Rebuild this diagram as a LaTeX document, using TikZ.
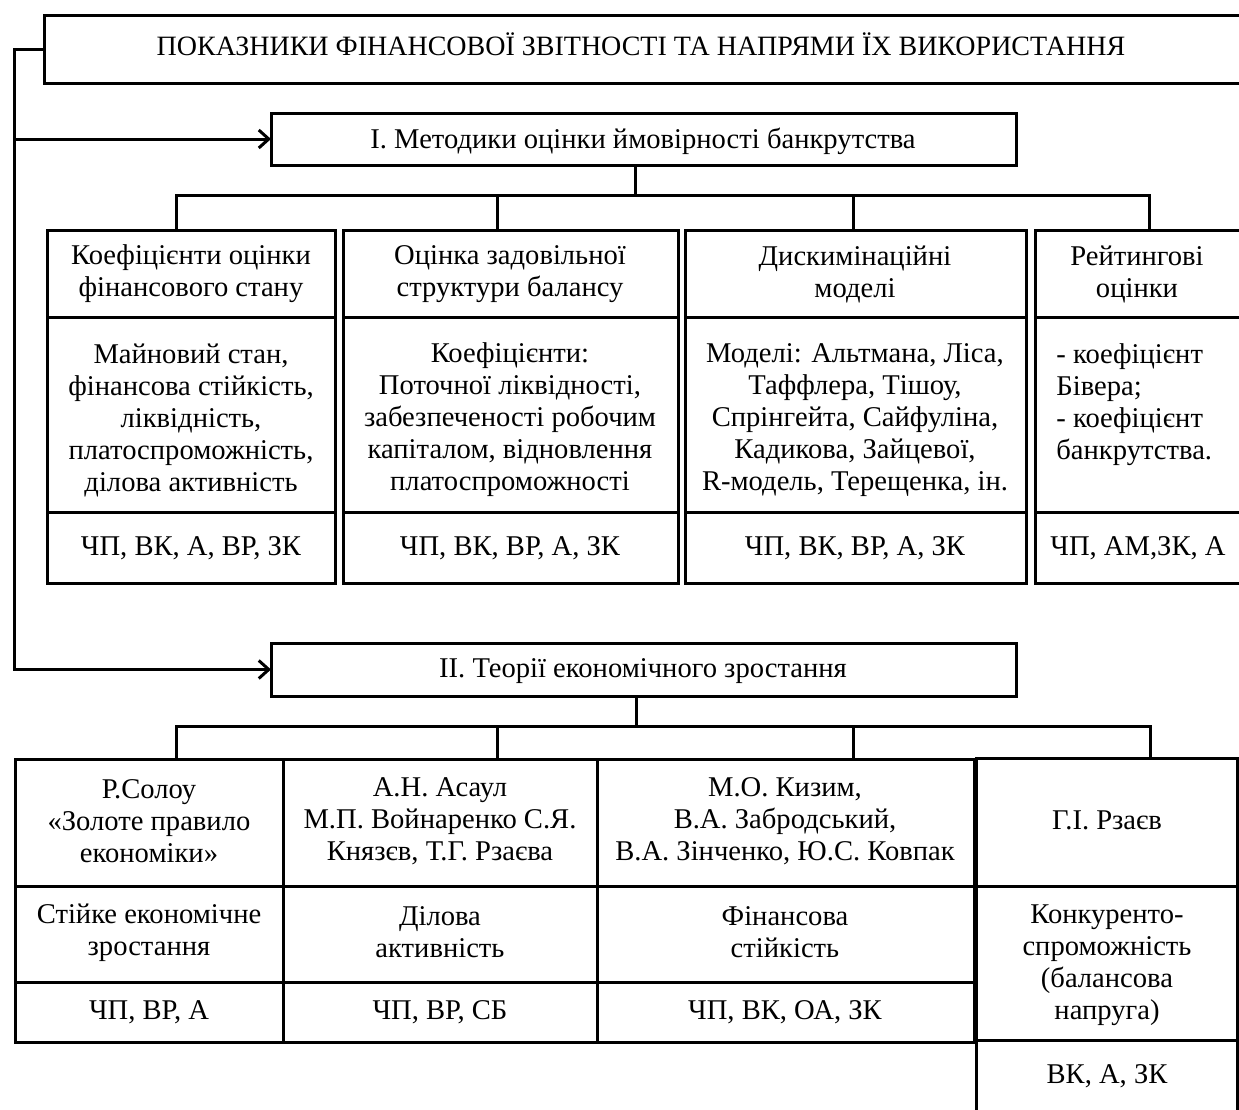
\documentclass[tikz,border=0pt]{standalone}
\usepackage{fontspec}
\setmainfont{Liberation Serif}
\usetikzlibrary{arrows.meta}

% box with corners (x1,y1) and (x2,y2), in pixel units
\newcommand\cellbox[5]{%
  \node[cellb, minimum width={(#4-#2)*0.5pt}, minimum height={(#5-#3)*0.5pt}]
    (#1) at ({(#2+#4)/2},{(#3+#5)/2}) {};}

\tikzset{
  cellb/.style={draw=black, line width=1.5pt, rectangle, inner sep=0pt, outer sep=0pt},
  txt/.style={align=center, inner sep=0pt, font=\fontsize{14.3}{16}\selectfont},
  conn/.style={draw=black, line width=1.5pt},
  arr/.style={-{Straight Barb[length=5pt,width=9pt,line width=1.5pt]}},
}

\begin{document}
\begin{tikzpicture}[x=0.5pt,y=-0.5pt]
\useasboundingbox (0,0) rectangle (1239,1110);

% title and the two section headings
\cellbox{top}{44}{15}{1242}{83}
\node[txt, font=\fontsize{14}{16}\selectfont] (title) at (641,44) {ПОКАЗНИКИ ФІНАНСОВОЇ ЗВІТНОСТІ ТА НАПРЯМИ ЇХ ВИКОРИСТАННЯ};
\cellbox{m1}{271}{113}{1016}{165}
\node[txt] (m1t) at (643,141) {І. Методики оцінки ймовірності банкрутства};
\cellbox{m2}{271}{643}{1016}{696}
\node[txt] (m2t) at (643,671) {ІІ. Теорії економічного зростання};

% section I: four columns of three cells
\cellbox{h11}{47}{230}{335}{317}
\cellbox{b11}{47}{317}{335}{512}
\cellbox{f11}{47}{512}{335}{583}
\cellbox{h12}{343}{230}{678}{317}
\cellbox{b12}{343}{317}{678}{512}
\cellbox{f12}{343}{512}{678}{583}
\cellbox{h13}{685}{230}{1026}{317}
\cellbox{b13}{685}{317}{1026}{512}
\cellbox{f13}{685}{512}{1026}{583}
\cellbox{h14}{1035}{230}{1242}{317}
\cellbox{b14}{1035}{317}{1242}{512}
\cellbox{f14}{1035}{512}{1242}{583}

\node[txt] (h11t) at (191,274) {Коефіцієнти оцінки\\фінансового стану};
\node[txt] (h12t) at (510,274) {Оцінка задовільної\\структури балансу};
\node[txt] (h13t) at (855,274) {Дискимінаційні\\моделі};
\node[txt] (h14t) at (1137,274) {Рейтингові\\оцінки};

\node[txt] (b11t) at (191,420) {Майновий стан,\\фінансова стійкість,\\ліквідність,\\платоспроможність,\\ділова активність};
\node[txt] (b12t) at (510,420) {Коефіцієнти:\\Поточної ліквідності,\\забезпеченості робочим\\капіталом, відновлення\\платоспроможності};
\node[txt] (b13t) at (855,420) {Моделі: Альтмана, Ліса,\\Таффлера, Тішоу,\\Спрінгейта, Сайфуліна,\\Кадикова, Зайцевої,\\R-модель, Терещенка, ін.};
\node[txt, align=left, anchor=west] (b14t) at (1056,405) {- коефіцієнт\\Бівера;\\- коефіцієнт\\банкрутства.};

\node[txt] (f11t) at (191,548) {ЧП, ВК, А, ВР, ЗК};
\node[txt] (f12t) at (510,548) {ЧП, ВК, ВР, А, ЗК};
\node[txt] (f13t) at (855,548) {ЧП, ВК, ВР, А, ЗК};
\node[txt] (f14t) at (1138,548) {ЧП, АМ,ЗК, А};

% section II: table of three columns and a taller fourth box
\cellbox{h21}{15}{759}{283}{886}
\cellbox{b21}{15}{886}{283}{982}
\cellbox{f21}{15}{982}{283}{1042}
\cellbox{h22}{283}{759}{597}{886}
\cellbox{b22}{283}{886}{597}{982}
\cellbox{f22}{283}{982}{597}{1042}
\cellbox{h23}{597}{759}{974}{886}
\cellbox{b23}{597}{886}{974}{982}
\cellbox{f23}{597}{982}{974}{1042}
\cellbox{h24}{976}{758}{1237}{886}
\cellbox{b24}{976}{886}{1237}{1040}
\cellbox{f24}{976}{1040}{1237}{1130}

\node[txt] (h21t) at (149,821) {Р.Солоу\\«Золоте правило\\економіки»};
\node[txt] (h22t) at (440,821) {А.Н. Асаул\\М.П. Войнаренко С.Я.\\Князєв, Т.Г. Рзаєва};
\node[txt] (h23t) at (785,821) {М.О. Кизим,\\В.А. Забродський,\\В.А. Зінченко, Ю.С. Ковпак};
\node[txt] (h24t) at (1107,820) {Г.І. Рзаєв};

\node[txt] (b21t) at (149,933) {Стійке економічне\\зростання};
\node[txt] (b22t) at (440,932) {Ділова\\активність};
\node[txt] (b23t) at (785,932) {Фінансова\\стійкість};
\node[txt] (b24t) at (1107,965) {Конкуренто-\\спроможність\\(балансова\\напруга)};

\node[txt] (f21t) at (149,1012) {ЧП, ВР, А};
\node[txt] (f22t) at (440,1012) {ЧП, ВР, СБ};
\node[txt] (f23t) at (785,1012) {ЧП, ВК, ОА, ЗК};
\node[txt] (f24t) at (1107,1076) {ВК, А, ЗК};

% left spine with arrows into both sections
\coordinate (sp) at (14,0);
\draw[conn, arr] (top.west) -- (top.west -| sp) |- (m2.west);
\draw[conn, arr] (m1.west -| sp) -- (m1.west);

% branching under section I
\coordinate (s1) at (635,195);
\coordinate (d11) at (176,195);
\coordinate (d12) at (497,195);
\coordinate (d13) at (853,195);
\coordinate (d14) at (1149,195);
\draw[conn] (s1 |- m1.south) -- (s1);
\draw[conn] (d11 |- h11.north) -- (d11) -- (d14) -- (d14 |- h14.north);
\draw[conn] (d12) -- (d12 |- h12.north);
\draw[conn] (d13) -- (d13 |- h13.north);

% branching under section II
\coordinate (s2) at (636,726);
\coordinate (d21) at (176,726);
\coordinate (d22) at (497,726);
\coordinate (d23) at (853,726);
\coordinate (d24) at (1150,726);
\draw[conn] (s2 |- m2.south) -- (s2);
\draw[conn] (d21 |- h21.north) -- (d21) -- (d24) -- (d24 |- h24.north);
\draw[conn] (d22) -- (d22 |- h22.north);
\draw[conn] (d23) -- (d23 |- h23.north);
\end{tikzpicture}
\end{document}
